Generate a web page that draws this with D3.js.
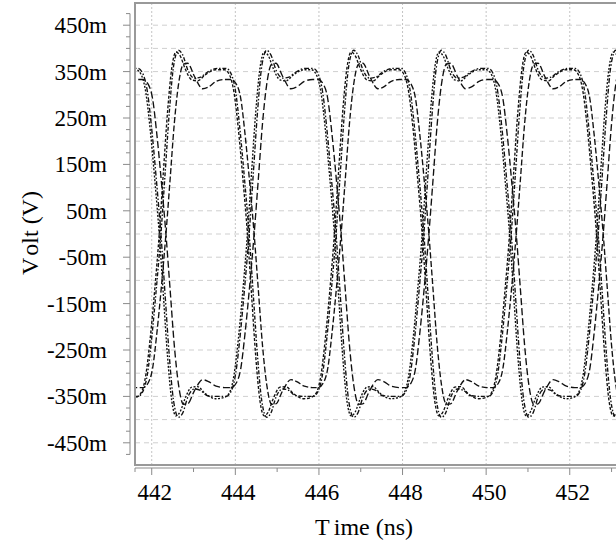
<!DOCTYPE html>
<html lang="en">
<head>
    <meta charset="UTF-8">
    <title>Volt vs Time</title>
    <script src="https://d3js.org/d3.v7.min.js"></script>
    <style>
        body { margin: 0; background: #fff; }
        svg { display: block; background: #fff; }
        text { font-family: "Liberation Serif", "DejaVu Serif", serif; fill: #000; }
        .tick-label { font-size: 23px; }
        .axis-title { font-size: 24px; }
        .grid-h { stroke: #cfcfcf; stroke-width: 1; stroke-dasharray: 5, 4; }
        .grid-v { stroke: #c4c4c4; stroke-width: 1; stroke-dasharray: 2, 2; }
        .axis-line { stroke: #8a8a8a; stroke-width: 1; fill: none; }
        .frame { stroke: #999; stroke-width: 2; fill: none; }
        .trace { fill: none; stroke: #111; stroke-width: 1.35; }
    </style>
</head>
<body>
    <svg width="616" height="543"></svg>

    <script>
        // axis ticks (ns and mV)
        const timeTicks = [442, 444, 446, 448, 450, 452];
        const voltTicks = [450, 350, 250, 150, 50, -50, -150, -250, -350, -450];
        const voltLabels = ["450m", "350m", "250m", "150m", "50m", "-50m", "-150m", "-250m", "-350m", "-450m"];

        // zero crossings of the fast corners (ns)
        const edges = [440.05, 442.18, 444.29, 446.37, 448.47, 450.56, 452.64];
        // extra delay of each corner (ns)
        const cornerDelay = [0, 0.04, 0.16];

        // edge shapes: [time from crossing (ns), volt (mV)]
        const rise1 = [[-0.55, -352], [-0.42, -340], [-0.32, -303], [-0.22, -228], [-0.11, -122], [0, 0], [0.1, 135], [0.2, 265], [0.3, 358], [0.4, 392], [0.5, 384], [0.62, 356], [0.78, 332], [0.92, 330], [1.1, 343], [1.35, 354]];
        const fall1 = [[-0.55, 354], [-0.42, 341], [-0.32, 304], [-0.22, 228], [-0.11, 120], [0, 0], [0.1, -134], [0.2, -266], [0.3, -360], [0.4, -392], [0.5, -383], [0.62, -354], [0.78, -330], [0.92, -329], [1.1, -344], [1.35, -355]];

        const rise2 = [[-0.55, -350], [-0.42, -337], [-0.32, -300], [-0.22, -224], [-0.11, -118], [0, 0], [0.1, 130], [0.2, 262], [0.3, 360], [0.42, 396], [0.52, 386], [0.65, 352], [0.8, 336], [0.95, 338], [1.1, 348], [1.35, 357]];
        const fall2 = [[-0.55, 357], [-0.42, 343], [-0.32, 305], [-0.22, 226], [-0.11, 118], [0, 0], [0.1, -131], [0.2, -262], [0.3, -358], [0.42, -395], [0.52, -386], [0.65, -350], [0.8, -334], [0.95, -337], [1.1, -348], [1.35, -350]];

        const rise3 = [[-0.55, -331], [-0.42, -320], [-0.32, -290], [-0.22, -216], [-0.11, -115], [0, 0], [0.1, 118], [0.2, 238], [0.3, 322], [0.42, 366], [0.52, 368], [0.68, 340], [0.88, 313], [1.02, 317], [1.2, 329], [1.4, 333]];
        const fall3 = [[-0.55, 333], [-0.42, 322], [-0.32, 292], [-0.22, 217], [-0.11, 114], [0, 0], [0.1, -120], [0.2, -240], [0.3, -324], [0.42, -367], [0.52, -366], [0.68, -338], [0.88, -314], [1.02, -318], [1.2, -328], [1.4, -331]];

        const svg = d3.select("svg");
        const plot = {left: 135, right: 620, top: 3, bottom: 465};

        const x = d3.scaleLinear([441.6, 453.13], [135, 617]);
        const y = d3.scaleLinear([-500, 500], [466, 2]);

        svg.append("defs").append("clipPath").attr("id", "clip")
            .append("rect")
            .attr("x", plot.left).attr("y", plot.top)
            .attr("width", plot.right - plot.left).attr("height", plot.bottom - plot.top);

        // grid
        const grid = svg.append("g");
        grid.selectAll(".grid-h")
            .data(d3.range(-450, 451, 50))
            .join("line")
            .attr("class", "grid-h")
            .attr("x1", plot.left).attr("x2", plot.right)
            .attr("y1", d => y(d)).attr("y2", d => y(d));
        grid.selectAll(".grid-v")
            .data(timeTicks)
            .join("line")
            .attr("class", "grid-v")
            .attr("x1", d => x(d)).attr("x2", d => x(d))
            .attr("y1", plot.top).attr("y2", plot.bottom);

        // traces
        function buildTrace(rise, fall, delay, startHigh) {
            const pts = [];
            edges.forEach((e, i) => {
                const isRise = startHigh ? i % 2 === 0 : i % 2 === 1;
                const shape = isRise ? rise : fall;
                shape.forEach(([dt, v]) => pts.push([e + delay + dt, v]));
            });
            return pts;
        }

        const corners = [[rise1, fall1], [rise2, fall2], [rise3, fall3]];
        const dashes = [["2,1.6", "3,1.8"], ["5,2,1.5,2", "4,1.8,1.5,1.8"], ["7,3", "6,2.5"]];

        const line = d3.line()
            .x(d => x(d[0]))
            .y(d => y(d[1]))
            .curve(d3.curveMonotoneX);

        const traceGroup = svg.append("g").attr("clip-path", "url(#clip)");
        corners.forEach(([rise, fall], c) => {
            [true, false].forEach((startHigh, p) => {
                traceGroup.append("path")
                    .attr("class", "trace")
                    .attr("stroke-dasharray", dashes[c][p])
                    .attr("d", line(buildTrace(rise, fall, cornerDelay[c], startHigh)));
            });
        });

        // frame
        svg.append("path")
            .attr("class", "frame")
            .attr("d", `M${plot.right},${plot.top}H${plot.left}V${plot.bottom}H${plot.right}`);

        // left axis
        const yAxis = svg.append("g");
        yAxis.append("line").attr("class", "axis-line")
            .attr("x1", 130).attr("x2", 130)
            .attr("y1", y(475)).attr("y2", y(-475));
        yAxis.selectAll(".ytick")
            .data(d3.range(-475, 476, 25))
            .join("line")
            .attr("class", "axis-line ytick")
            .attr("x1", d => voltTicks.includes(d) ? 123 : 126).attr("x2", 130)
            .attr("y1", d => y(d)).attr("y2", d => y(d));
        yAxis.selectAll(".tick-label")
            .data(voltTicks)
            .join("text")
            .attr("class", "tick-label")
            .attr("x", 107)
            .attr("y", d => y(d))
            .attr("dy", "0.35em")
            .attr("text-anchor", "end")
            .text((d, i) => voltLabels[i]);

        // bottom axis
        const xAxis = svg.append("g");
        xAxis.append("line").attr("class", "axis-line")
            .attr("x1", plot.left).attr("x2", plot.right)
            .attr("y1", 468).attr("y2", 468);
        xAxis.selectAll(".xtick")
            .data([441.6].concat(d3.range(442, 454, 1)))
            .join("line")
            .attr("class", "axis-line xtick")
            .attr("x1", d => x(d)).attr("x2", d => x(d))
            .attr("y1", 468).attr("y2", d => timeTicks.includes(d) ? 475 : 472);
        xAxis.selectAll(".tick-label")
            .data(timeTicks)
            .join("text")
            .attr("class", "tick-label")
            .attr("x", d => x(d) + 3)
            .attr("y", 500)
            .attr("text-anchor", "middle")
            .text(d => d);

        // titles (the original puts a small gap after the first letter)
        const xTitle = svg.append("text")
            .attr("class", "axis-title")
            .attr("x", 364).attr("y", 535)
            .attr("text-anchor", "middle");
        xTitle.append("tspan").text("T");
        xTitle.append("tspan").attr("dx", 5).text("ime (ns)");

        const yTitle = svg.append("text")
            .attr("class", "axis-title")
            .attr("transform", "translate(38,233) rotate(-90)")
            .attr("text-anchor", "middle");
        yTitle.append("tspan").text("V");
        yTitle.append("tspan").attr("dx", 5).text("olt (V)");
    </script>
</body>
</html>
